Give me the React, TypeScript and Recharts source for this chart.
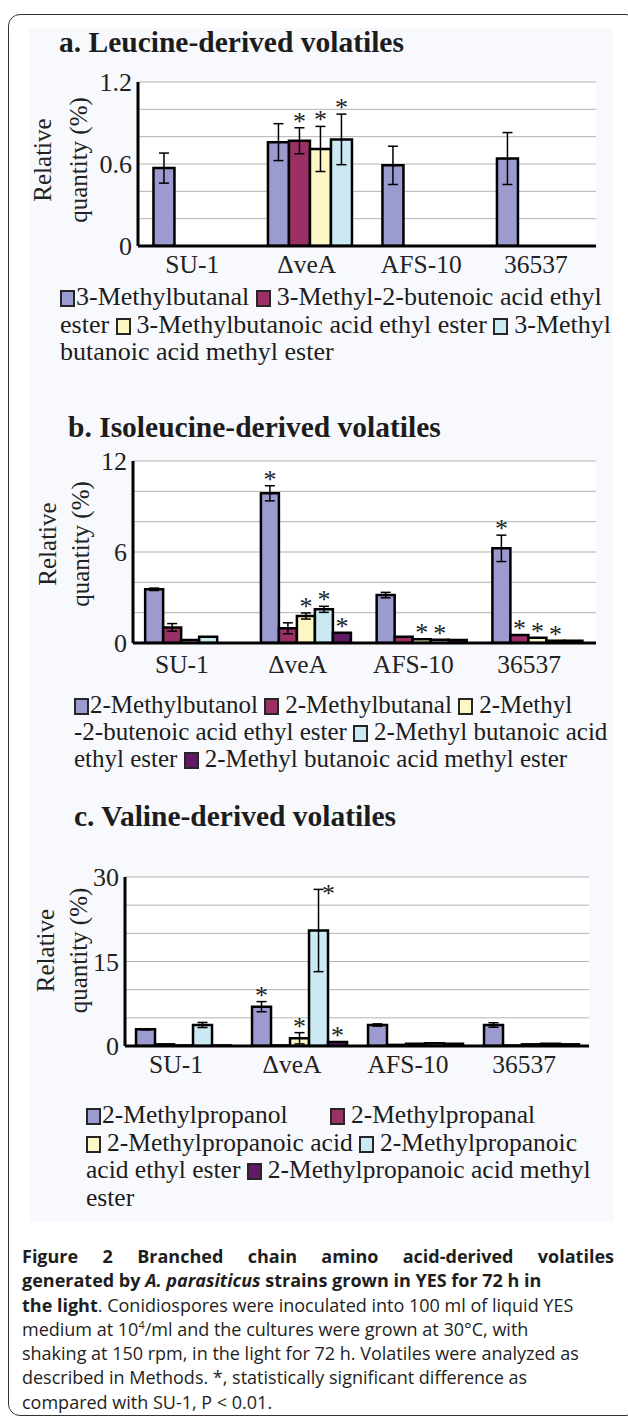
import React from 'react';
import { BarChart, Bar, XAxis, YAxis, CartesianGrid, ErrorBar, LabelList, Legend } from 'recharts';

const SERIF = '"Liberation Serif", "Times New Roman", serif';
const SANS = '"Open Sans", "Noto Sans", sans-serif';

const strains = ['SU-1', 'ΔveA', 'AFS-10', '36537'];
const colors = ['#9b9bd0', '#9a3065', '#fdf7c6', '#cbe9f2', '#621a66'];

// a. Leucine-derived volatiles
const leuNames = [
  '3-Methylbutanal',
  '3-Methyl-2-butenoic acid ethyl ester',
  '3-Methylbutanoic acid ethyl ester',
  '3-Methyl butanoic acid methyl ester',
];
const leuMethylbutanal = [0.57, 0.76, 0.59, 0.64];
const leuMethylbutanalErr = [0.11, 0.135, 0.14, 0.19];
const leuButenoicEthyl = [0, 0.77, 0, 0];
const leuButenoicEthylErr = [null, 0.095, null, null];
const leuButanoicEthyl = [0, 0.71, 0, 0];
const leuButanoicEthylErr = [null, 0.165, null, null];
const leuButanoicMethyl = [0, 0.78, 0, 0];
const leuButanoicMethylErr = [null, 0.185, null, null];
const leuStars = [[], ['ΔveA'], ['ΔveA'], ['ΔveA']];
const leuGridTicks = [0, 0.2, 0.4, 0.6, 0.8, 1, 1.2];
const leuTickLabels = [0, 0.6, 1.2];

// b. Isoleucine-derived volatiles
const ileNames = [
  '2-Methylbutanol',
  '2-Methylbutanal',
  '2-Methyl\u200B-2-butenoic acid ethyl ester',
  '2-Methyl butanoic acid ethyl ester',
  '2-Methyl butanoic acid methyl ester',
];
const ileButanol = [3.54, 9.87, 3.16, 6.24];
const ileButanolErr = [0.08, 0.5, 0.18, 0.87];
const ileButanal = [1.03, 0.97, 0.42, 0.53];
const ileButanalErr = [0.25, 0.36, null, null];
const ileButenoicEthyl = [0.2, 1.78, 0.25, 0.35];
const ileButenoicEthylErr = [null, 0.2, null, null];
const ileButanoicEthyl = [0.42, 2.22, 0.22, 0.15];
const ileButanoicEthylErr = [null, 0.2, null, null];
const ileButanoicMethyl = [0, 0.68, 0.2, 0.15];
const ileButanoicMethylErr = [null, null, null, null];
const ileStars = [['ΔveA', '36537'], ['36537'], ['ΔveA', 'AFS-10', '36537'], ['ΔveA', 'AFS-10', '36537'], ['ΔveA']];
const ileGridTicks = [0, 2, 4, 6, 8, 10, 12];
const ileTickLabels = [0, 6, 12];

// c. Valine-derived volatiles
const valNames = [
  '2-Methylpropanol',
  '2-Methylpropanal',
  '2-Methylpropanoic acid',
  '2-Methylpropanoic acid ethyl ester',
  '2-Methylpropanoic acid methyl ester',
];
const valPropanol = [2.96, 6.98, 3.73, 3.73];
const valPropanolErr = [0.1, 0.9, 0.2, 0.4];
const valPropanal = [0.3, 0.1, 0.2, 0.1];
const valPropanalErr = [null, null, null, null];
const valPropanoicAcid = [0.1, 1.37, 0.4, 0.3];
const valPropanoicAcidErr = [null, 1.0, null, null];
const valPropanoicEthyl = [3.73, 20.5, 0.5, 0.4];
const valPropanoicEthylErr = [0.45, 7.3, null, null];
const valPropanoicMethyl = [0.1, 0.7, 0.4, 0.3];
const valPropanoicMethylErr = [null, null, null, null];
const valStars = [['ΔveA'], [], ['ΔveA'], ['ΔveA'], ['ΔveA']];
const valGridTicks = [0, 5, 10, 15, 20, 25, 30];
const valTickLabels = [0, 15, 30];

type Series = { name: string; values: number[]; errors: (number | null)[]; stars: string[] };

const makeSeries = (names: string[], values: number[][], errors: (number | null)[][], stars: string[][]): Series[] =>
  names.map((name, k) => ({ name, values: values[k], errors: errors[k], stars: stars[k] }));

const leuSeries = makeSeries(
  leuNames,
  [leuMethylbutanal, leuButenoicEthyl, leuButanoicEthyl, leuButanoicMethyl],
  [leuMethylbutanalErr, leuButenoicEthylErr, leuButanoicEthylErr, leuButanoicMethylErr],
  leuStars,
);
const ileSeries = makeSeries(
  ileNames,
  [ileButanol, ileButanal, ileButenoicEthyl, ileButanoicEthyl, ileButanoicMethyl],
  [ileButanolErr, ileButanalErr, ileButenoicEthylErr, ileButanoicEthylErr, ileButanoicMethylErr],
  ileStars,
);
const valSeries = makeSeries(
  valNames,
  [valPropanol, valPropanal, valPropanoicAcid, valPropanoicEthyl, valPropanoicMethyl],
  [valPropanolErr, valPropanalErr, valPropanoicAcidErr, valPropanoicEthylErr, valPropanoicMethylErr],
  valStars,
);

function YTick(props: any) {
  const { x, y, payload, labels } = props;
  if (!labels.includes(payload.value)) return null;
  return (
    <text x={x} y={y} dy="0.35em" textAnchor="end" fontFamily={SERIF} fontSize={26} fill="#222">
      {String(payload.value)}
    </text>
  );
}

function XTick(props: any) {
  const { x, y, payload, shift } = props;
  return (
    <text x={x + shift} y={y} dy="0.71em" textAnchor="middle" fontFamily={SERIF} fontSize={25.5} fill="#222">
      {payload.value}
    </text>
  );
}

const nowrap: React.CSSProperties = { whiteSpace: 'nowrap' };

function LegendBody({ series, fontSize, lineHeight, gaps }: { series: Series[]; fontSize: number; lineHeight: number; gaps: number[] }) {
  return (
    <div style={{ fontFamily: SERIF, fontSize, lineHeight: `${lineHeight}px`, color: '#1c1c1c', textAlign: 'left' }}>
      {series.map((se, k) => {
        const tokens = se.name.split(/([ \u200B])/);
        return (
          <React.Fragment key={k}>
            <span style={nowrap}>
              <span
                style={{
                  display: 'inline-block',
                  boxSizing: 'border-box',
                  width: 15,
                  height: 17,
                  background: colors[k],
                  border: '2px solid #262626',
                  verticalAlign: '-2px',
                  marginRight: k === 0 ? 1 : 6,
                }}
              />
              {tokens[0]}
            </span>
            {tokens.slice(1).map((t, i) =>
              i % 2 === 0 ? t : <span key={i} style={nowrap}>{t}</span>,
            )}
            {' '}
            {gaps[k] ? <span style={{ display: 'inline-block', width: gaps[k] }} /> : null}
          </React.Fragment>
        );
      })}
    </div>
  );
}

type PanelProps = {
  wrapTop: number;
  height: number;
  plot: { left: number; right: number; top: number; bottom: number };
  yMax: number;
  gridTicks: number[];
  tickLabels: number[];
  series: Series[];
  catGap: string;
  xShift: number;
  xTickMargin: number;
  yLabel: { x1: number; x2: number; dy: number };
  legend: { top: number; left: number; width: number; fontSize: number; lineHeight: number; gaps: number[] };
};

function Panel(p: PanelProps) {
  const chartW = 628;
  const xAxisH = 40;
  const marginLeft = 10;
  const margin = {
    top: p.plot.top - p.wrapTop,
    right: chartW - p.plot.right,
    left: marginLeft,
    bottom: p.height - (p.plot.bottom - p.wrapTop) - xAxisH,
  };
  const pxPerUnit = (p.plot.bottom - p.plot.top) / p.yMax;
  const plotTopLocal = p.plot.top - p.wrapTop;
  const rows = strains.map((s, i) => {
    const r: any = { strain: s };
    p.series.forEach((se, k) => {
      r['v' + k] = se.values[i];
      r['e' + k] = se.errors[i];
      r['s' + k] = se.stars.includes(s);
    });
    return r;
  });
  const frame = { stroke: '#000', strokeWidth: 3 };

  // value handed to the label = error amount above the bar when starred, -1 otherwise
  const starContent = (lp: any) => {
    const v = lp.value;
    if (v == null || v < 0) return null;
    const vb = lp.viewBox ?? lp;
    const { x, y, width } = vb;
    const errTop = y - v * pxPerUnit;
    let cx = x + width / 2;
    let cy = errTop - 11;
    if (cy - 5 < plotTopLocal) {
      cx = x + width / 2 + 10;
      cy = errTop;
    }
    return (
      <text x={cx} y={cy + 13} textAnchor="middle" fontFamily={SERIF} fontSize={26} fill="#222">
        *
      </text>
    );
  };

  const yLabel = (lp: any) => {
    const vb = lp.viewBox;
    const cy = vb.y + vb.height / 2 + p.yLabel.dy;
    return (
      <g fontFamily={SERIF} fontSize={25} fill="#222">
        <text transform={`translate(${p.yLabel.x1},${cy}) rotate(-90)`} textAnchor="middle" dominantBaseline="central">
          Relative
        </text>
        <text transform={`translate(${p.yLabel.x2},${cy}) rotate(-90)`} textAnchor="middle" dominantBaseline="central">
          quantity (%)
        </text>
      </g>
    );
  };

  return (
    <div style={{ position: 'absolute', left: 0, top: p.wrapTop }}>
      <BarChart width={chartW} height={p.height} data={rows} margin={margin} barGap={0} barCategoryGap={p.catGap}>
        <CartesianGrid vertical={false} stroke="#b3b3b3" fill="#fff" />
        <XAxis
          dataKey="strain"
          height={xAxisH}
          interval={0}
          tickSize={0}
          tickMargin={p.xTickMargin}
          tickLine={false}
          axisLine={frame}
          tick={<XTick shift={p.xShift} />}
        />
        <XAxis xAxisId="top" orientation="top" dataKey="strain" height={0} tick={false} tickLine={false} axisLine={frame} />
        <YAxis
          domain={[0, p.yMax]}
          ticks={p.gridTicks}
          interval={0}
          width={p.plot.left - marginLeft}
          tickSize={0}
          tickMargin={6}
          tickLine={false}
          axisLine={frame}
          allowDataOverflow
          tick={<YTick labels={p.tickLabels} />}
          label={{ content: yLabel }}
        />
        <YAxis yAxisId="right" orientation="right" width={0} domain={[0, p.yMax]} tick={false} tickLine={false} axisLine={frame} />
        {p.series.map((se, k) => (
          <Bar
            key={k}
            dataKey={'v' + k}
            name={se.name}
            fill={colors[k]}
            stroke="#000"
            strokeWidth={2.5}
            isAnimationActive={false}
          >
            <ErrorBar dataKey={'e' + k} width={5} stroke="#000" strokeWidth={1.5} direction="y" />
            <LabelList
              dataKey={(row: any) => (row['s' + k] ? row['e' + k] ?? 0 : -1)}
              content={starContent}
            />
          </Bar>
        ))}
        <Legend
          layout="horizontal"
          verticalAlign="middle"
          align="center"
          wrapperStyle={{ top: p.legend.top - p.wrapTop, left: p.legend.left, width: p.legend.width, height: 'auto' }}
          content={() => (
            <LegendBody
              series={p.series}
              fontSize={p.legend.fontSize}
              lineHeight={p.legend.lineHeight}
              gaps={p.legend.gaps}
            />
          )}
        />
      </BarChart>
    </div>
  );
}

const titleStyle: React.CSSProperties = {
  position: 'absolute',
  fontFamily: SERIF,
  fontWeight: 'bold',
  fontSize: 29.5,
  lineHeight: 1,
  color: '#1c1c1c',
  whiteSpace: 'nowrap',
};

const captionLine: React.CSSProperties = { whiteSpace: 'nowrap', height: 24.3 };

export default function App() {
  return (
    <div style={{ position: 'absolute', left: 0, top: 0, width: 628, height: 1420, background: '#fff', overflow: 'hidden' }}>
      <div
        style={{
          position: 'absolute',
          left: 8,
          top: 14,
          width: 630,
          height: 1402,
          border: '1.5px solid #333',
          borderRadius: 12,
          boxSizing: 'border-box',
        }}
      />
      <div style={{ position: 'absolute', left: 29, top: 28, width: 584, height: 1194, background: '#f8f9fc' }} />

      <div style={{ ...titleStyle, left: 59, top: 28 }}>a. Leucine-derived volatiles</div>
      <Panel
        wrapTop={60}
        height={312}
        plot={{ left: 138, right: 596, top: 82, bottom: 246 }}
        yMax={1.2}
        gridTicks={leuGridTicks}
        tickLabels={leuTickLabels}
        series={leuSeries}
        catGap="13.5%"
        xShift={-3}
        xTickMargin={9}
        yLabel={{ x1: 42, x2: 78, dy: -4 }}
        legend={{ top: 283, left: 60, width: 565, fontSize: 26, lineHeight: 27.5, gaps: [] }}
      />

      <div style={{ ...titleStyle, left: 68, top: 413 }}>b. Isoleucine-derived volatiles</div>
      <Panel
        wrapTop={445}
        height={335}
        plot={{ left: 133, right: 596, top: 461, bottom: 643 }}
        yMax={12}
        gridTicks={ileGridTicks}
        tickLabels={ileTickLabels}
        series={ileSeries}
        catGap="10.5%"
        xShift={-9}
        xTickMargin={12}
        yLabel={{ x1: 47, x2: 80, dy: -8 }}
        legend={{ top: 691, left: 74, width: 545, fontSize: 25, lineHeight: 27, gaps: [] }}
      />

      <div style={{ ...titleStyle, left: 74, top: 802 }}>c. Valine-derived volatiles</div>
      <Panel
        wrapTop={850}
        height={365}
        plot={{ left: 125, right: 589, top: 877, bottom: 1046 }}
        yMax={30}
        gridTicks={valGridTicks}
        tickLabels={valTickLabels}
        series={valSeries}
        catGap="9.5%"
        xShift={-7}
        xTickMargin={9}
        yLabel={{ x1: 45, x2: 78, dy: -11 }}
        legend={{ top: 1101, left: 86, width: 515, fontSize: 25.5, lineHeight: 27.5, gaps: [36] }}
      />

      <div
        style={{
          position: 'absolute',
          left: 22,
          top: 1244,
          width: 592,
          fontFamily: SANS,
          fontSize: 18,
          lineHeight: '24.3px',
          color: '#1e1e1e',
        }}
      >
        <div style={{ ...captionLine, textAlign: 'justify', textAlignLast: 'justify', fontWeight: 'bold' }}>
          Figure 2 Branched chain amino acid-derived volatiles
        </div>
        <div style={{ ...captionLine, fontWeight: 'bold' }}>
          generated by <i>A. parasiticus</i> strains grown in YES for 72 h in
        </div>
        <div style={captionLine}>
          <b>the light</b>. Conidiospores were inoculated into 100 ml of liquid YES
        </div>
        <div style={captionLine}>
          medium at 10<sup style={{ fontSize: 11, lineHeight: 0 }}>4</sup>/ml and the cultures were grown at 30°C, with
        </div>
        <div style={captionLine}>shaking at 150 rpm, in the light for 72 h. Volatiles were analyzed as</div>
        <div style={captionLine}>described in Methods. *, statistically significant difference as</div>
        <div style={captionLine}>compared with SU-1, P &lt; 0.01.</div>
      </div>
    </div>
  );
}
